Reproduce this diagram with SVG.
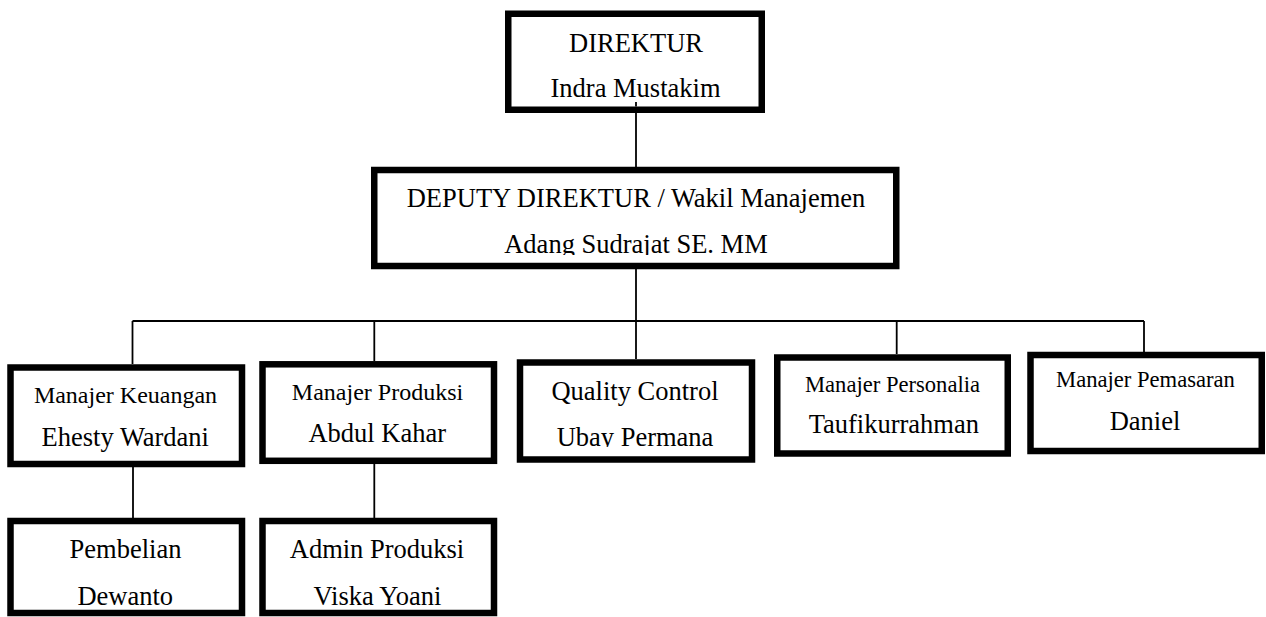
<svg xmlns="http://www.w3.org/2000/svg" width="1266" height="617" viewBox="0 0 1266 617">
<style>
.box{fill:#fff;stroke:#000;stroke-width:6.5}
.ln{stroke:#000;stroke-width:1.8;fill:none}
text{font-family:"Liberation Serif","Times New Roman",serif;fill:#000;text-anchor:middle}
.b{font-size:26.5px}
.s{font-size:24px}
.xs{font-size:22.6px}
</style>
<defs>
<clipPath id="clipDep"><rect x="370" y="160" width="540" height="95"/></clipPath>
<clipPath id="clipQC"><rect x="515" y="355" width="245" height="92"/></clipPath>
</defs>
<rect width="1266" height="617" fill="#fff"/>
<g id="connectors">
<line class="ln" x1="636" y1="102" x2="636" y2="167"/>
<line class="ln" x1="636" y1="269" x2="636" y2="321"/>
<line class="ln" x1="132.5" y1="321" x2="1144" y2="321"/>
<line class="ln" x1="132.5" y1="321" x2="132.5" y2="364"/>
<line class="ln" x1="374.3" y1="321" x2="374.3" y2="361"/>
<line class="ln" x1="636" y1="321" x2="636" y2="359"/>
<line class="ln" x1="896.7" y1="321" x2="896.7" y2="354"/>
<line class="ln" x1="1144" y1="321" x2="1144" y2="352"/>
<line class="ln" x1="133" y1="458" x2="133" y2="518"/>
<line class="ln" x1="374.3" y1="457" x2="374.3" y2="518"/>
</g>
<g id="direktur">
<rect class="box" x="508.25" y="13.75" width="253.5" height="96"/>
<text class="b" x="636" y="51.7">DIREKTUR</text>
<line class="ln" x1="636" y1="102" x2="636" y2="106.5"/>
<text class="b" x="635.5" y="96.7">Indra Mustakim</text>
</g>
<g id="deputy">
<rect class="box" x="374.25" y="170" width="522" height="96"/>
<text class="b" x="636" y="206.7">DEPUTY DIREKTUR / Wakil Manajemen</text>
<text class="b" x="636" y="252.5" clip-path="url(#clipDep)">Adang Sudrajat SE. MM</text>
</g>
<g id="keuangan">
<rect class="box" x="10.5" y="367.5" width="231.5" height="96.5"/>
<text class="s" x="125.5" y="402.7">Manajer Keuangan</text>
<text class="b" x="125.3" y="446">Ehesty Wardani</text>
</g>
<g id="produksi">
<rect class="box" x="262.5" y="364.3" width="231.5" height="96.5"/>
<text class="s" x="377.5" y="400">Manajer Produksi</text>
<text class="b" x="377.3" y="441.7">Abdul Kahar</text>
</g>
<g id="qc">
<rect class="box" x="520" y="362.5" width="232" height="97"/>
<text class="b" x="635" y="400">Quality Control</text>
<text class="b" x="635" y="445.7" clip-path="url(#clipQC)">Ubay Permana</text>
</g>
<g id="personalia">
<rect class="box" x="777.25" y="357.5" width="230.5" height="96"/>
<text class="xs" x="892.5" y="391.7">Manajer Personalia</text>
<text class="b" x="893.8" y="433.3">Taufikurrahman</text>
</g>
<g id="pemasaran">
<rect class="box" x="1030.5" y="355" width="231.25" height="96"/>
<text class="xs" x="1145.5" y="387.3">Manajer Pemasaran</text>
<text class="b" x="1145" y="430">Daniel</text>
</g>
<g id="pembelian">
<rect class="box" x="10.5" y="521" width="231.5" height="92"/>
<text class="b" x="125.5" y="558.3">Pembelian</text>
<text class="b" x="125.3" y="605">Dewanto</text>
</g>
<g id="admin">
<rect class="box" x="262.5" y="521" width="231.5" height="92"/>
<text class="b" x="377" y="558.3">Admin Produksi</text>
<text class="b" x="377.5" y="605">Viska Yoani</text>
</g>
</svg>
